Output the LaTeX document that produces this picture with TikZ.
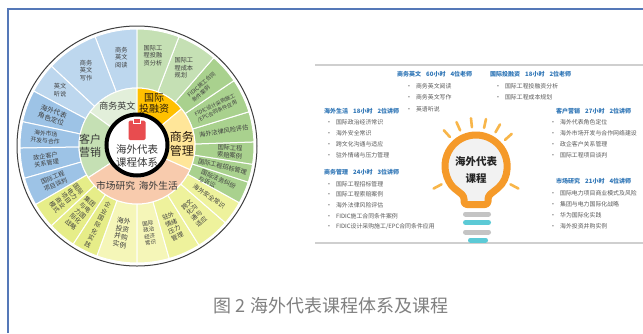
\documentclass[tikz,border=0pt]{standalone}
\usepackage{fontspec}
\setmainfont{Noto Sans CJK SC}
\definecolor{frameblue}{HTML}{5578B8}
\definecolor{panelgrey}{HTML}{CFCFCF}
\definecolor{headblue}{HTML}{2E75B6}
\definecolor{itemgrey}{HTML}{595959}
\definecolor{capgrey}{HTML}{808080}
\definecolor{lblue}{HTML}{BDD7EE}
\definecolor{mblue}{HTML}{9DC3E6}
\definecolor{lgreen}{HTML}{C5E0B4}
\definecolor{mgreen}{HTML}{A9D18E}
\definecolor{yel}{HTML}{EEF29C}
\definecolor{yelpale}{HTML}{F5F6B8}
\definecolor{yellime}{HTML}{E6ED88}
\definecolor{cEng}{HTML}{E2EFDA}
\definecolor{cMkt}{HTML}{C5E0B4}
\definecolor{cInv}{HTML}{FFC000}
\definecolor{cMgt}{HTML}{FFE699}
\definecolor{cLife}{HTML}{F8CBAD}
\definecolor{clipred}{HTML}{E84C4F}
\definecolor{bulborange}{HTML}{F59A2A}
\definecolor{raycol}{HTML}{F8B64A}
\definecolor{bulbfill}{HTML}{F2F2F2}
\definecolor{bargrey}{HTML}{C4C4C4}
\definecolor{barcyan}{HTML}{5CCAD6}
% annular sector: start angle, end angle, inner radius, outer radius, colour
\newcommand\wseg[5]{\path[fill=#5, draw=white, line width=1pt] (#1:#3) arc[start angle=#1, end angle=#2, radius=#3] -- (#2:#4) arc[start angle=#2, end angle=#1, radius=#4] -- cycle;}
\begin{document}
\begin{tikzpicture}[x=1pt, y=-1pt,
  otxt/.style={font=\fontsize{6.2}{7.4}\selectfont, text=black!75, inner sep=0pt, align=center},
  mtxt/.style={text=black!78, inner sep=0pt, align=center},
  head/.style={font=\fontsize{6}{7}\selectfont\bfseries, text=headblue, anchor=west, inner sep=0pt},
  item/.style={font=\fontsize{5.9}{7}\selectfont, text=itemgrey, anchor=west, inner sep=0pt},
  bar/.style={line width=5pt, line cap=round},
  ray/.style={draw=raycol, line width=2.6pt, line cap=round}]
\useasboundingbox (0,0) rectangle (643,333);
\fill[white] (0,0) rectangle (643,333);

% page frame
\draw[frameblue, line width=2pt] (8,333) -- (8,9) -- (643,9);

% ---------- course wheel ----------
\begin{scope}[shift={(137,146)}, y=1pt]
  \draw[black!75, line width=1pt] (0,0) circle[radius=120];
  % outer ring: courses
  \wseg{90}{111}{58}{117}{lblue}
  \wseg{111}{137}{58}{117}{lblue}
  \wseg{137}{152}{58}{117}{lblue}
  \wseg{152}{168}{58}{117}{mblue}
  \wseg{168}{181}{58}{117}{mblue}
  \wseg{181}{196}{58}{117}{mblue}
  \wseg{196}{210}{58}{117}{mblue}
  \wseg{210}{223}{58}{117}{yellime}
  \wseg{223}{237}{58}{117}{yellime}
  \wseg{237}{250}{58}{117}{yellime}
  \wseg{250}{270}{58}{117}{yelpale}
  \wseg{270}{286}{58}{117}{yelpale}
  \wseg{286}{302}{58}{117}{yel}
  \wseg{302}{319}{58}{117}{yel}
  \wseg{319}{331}{58}{117}{yel}
  \wseg{331}{342}{58}{117}{mgreen}
  \wseg{342}{351}{58}{117}{mgreen}
  \wseg{351}{362}{58}{117}{mgreen}
  \wseg{2}{17}{58}{117}{mgreen}
  \wseg{17}{34}{58}{117}{mgreen}
  \wseg{34}{49}{58}{117}{mgreen}
  \wseg{49}{69}{58}{117}{lgreen}
  \wseg{69}{90}{58}{117}{lgreen}
  % middle ring: course groups
  \wseg{90}{144}{31}{58}{cEng}
  \wseg{144}{213}{31}{58}{cMkt}
  \wseg{213}{336}{31}{58}{cLife}
  \wseg{-24}{40}{31}{58}{cMgt}
  \wseg{40}{90}{31}{58}{cInv}
  % hub
  \draw[black, line width=4pt, fill=white] (0,1) circle[radius=30.5];
  \fill[clipred, rounded corners=1.5pt] (-8.5,6) rectangle (8.5,25.5);
  \path[fill=clipred, draw=white, line width=0.8pt] (-3.5,23) rectangle (3.5,27.5);
  \node[mtxt, font=\fontsize{10.5}{12.5}\selectfont] (hub) at (0,-10) {海外代表\\课程体系};

  % group labels
  \node[mtxt, font=\fontsize{9}{10}\selectfont] (gEng) at (116:45) {商务英文};
  \node[mtxt, font=\fontsize{10}{11.5}\selectfont, text=black!80!brown] (gInv) at (68:46) {国际\\投融资};
  \node[mtxt, font=\fontsize{12}{14}\selectfont, text=black!80!brown] (gMgt) at (3:45) {商务\\管理};
  \node[mtxt, font=\fontsize{11}{13}\selectfont] (gMkt) at (180:47) {客户\\营销};
  \node[mtxt, font=\fontsize{9.7}{11}\selectfont] (gLife) at (270:40) {市场研究\hspace{4pt}海外生活};

  % course labels
  \node[otxt, align=left] (c01) at (80:92) {国际工\\程投融\\资分析};
  \node[otxt, align=left] (c02) at (59:91) {国际工\\程成本\\规划};
  \node[otxt] (c03) at (100:90) {商务\\英文\\阅读};
  \node[otxt] (c04) at (124:91) {商务\\英文\\写作};
  \node[otxt] (c05) at (144:95) {英文\\听说};
  \node[otxt, font=\fontsize{6.8}{8}\selectfont, rotate=-20] (c06) at (160:90) {海外代表\\角色定位};
  \node[otxt, font=\fontsize{5.8}{7}\selectfont, rotate=-5.5] (c07) at (174.5:92) {海外市场\\开发与合作};
  \node[otxt, rotate=8.5] (c08) at (188.5:92) {政企客户\\关系管理};
  \node[otxt, rotate=23] (c09) at (203:90) {国际工程\\项目谈判};
  \node[otxt, rotate=-53.5] (c10) at (216.5:88) {国际\\电力\\项目\\商业\\模式};
  \node[otxt, rotate=-40] (c11) at (230:88) {集团\\与电\\力国\\际化\\战略};
  \node[otxt, rotate=-26.5] (c12) at (243.5:88) {企\\业\\国\\际\\化\\实\\践};
  \node[otxt, font=\fontsize{6.8}{8}\selectfont, rotate=-10] (c13) at (260:88) {海外\\投资\\并购\\实例};
  \node[otxt, font=\fontsize{5.5}{6.6}\selectfont, rotate=8] (c14) at (278:88) {国际\\政治\\经济\\常识};
  \node[otxt, rotate=24] (c15) at (294:88) {驻外\\情绪\\压力\\管理};
  \node[otxt, rotate=40.5] (c16) at (310.5:88) {跨文\\化沟\\通与\\适应};
  \node[otxt, rotate=-35] (c17) at (325:88) {海外安全常识};
  \node[otxt, align=left, rotate=-24.5] (c18) at (-24.5:88) {国际法务纠纷\\与诉讼};
  \node[otxt, rotate=-13.5] (c19) at (-13.5:88) {国际工程招标管理};
  \node[otxt, align=left, rotate=-3.5] (c20) at (-3.5:93) {国际工程\\索赔案例};
  \node[otxt, rotate=9.5] (c21) at (9.5:88) {海外法律风险评估};
  \node[otxt, font=\fontsize{5.2}{6.6}\selectfont, align=left, rotate=25.5] (c22) at (25.5:88) {FIDIC设计采购施工\\/EPC合同条件应用};
  \node[otxt, font=\fontsize{5.4}{6.8}\selectfont, align=left, rotate=41.5] (c23) at (41.5:89) {FIDIC施工合同\\条件案例};
\end{scope}

% ---------- course summary panel ----------
\fill[white] (315,65) rectangle (643,243);
\draw[panelgrey, line width=1.2pt] (315,65) -- (643,65);
\draw[panelgrey, line width=1.2pt] (315,243) -- (643,243);

% light bulb
\begin{scope}[shift={(476,166)}, y=1pt]
  \foreach \a in {42,60,78,96,114,132,208,332}
    \draw[ray] (\a:39) -- (\a:48);
  \path[fill=bulbfill, draw=bulborange, line width=7pt, line join=round, rounded corners=3pt]
    (-50:31) arc[start angle=-50, end angle=230, radius=31]
    -- (-12,-30) -- (-12,-38.5) -- (12,-38.5) -- (12,-30) -- cycle;
\end{scope}
\node[font=\fontsize{10.5}{16.5}\selectfont\bfseries, text=black!85, align=center, inner sep=0pt] (bulbtext) at (476,170) {海外代表\\课程};
\draw[bar, bargrey] (465.5,214) -- (488.5,214);
\draw[bar, barcyan] (465.5,222.5) -- (488.5,222.5);
\draw[bar, bargrey] (465.5,232) -- (488.5,232);
\draw[bar, barcyan] (470.5,240) -- (485.5,240);

% group: business English
\node[head] (hEng) at (397,74) {商务英文\hspace{5pt}60小时\hspace{5pt}4位老师};
\node[item] (iEng1) at (406,86) {•\hspace{4pt}商务英文阅读};
\node[item] (iEng2) at (406,97.5) {•\hspace{4pt}商务英文写作};
\node[item] (iEng3) at (406,109) {•\hspace{4pt}英语听说};

% group: investment and financing
\node[head] (hInv) at (490,74) {国际投融资\hspace{5pt}18小时\hspace{5pt}2位老师};
\node[item] (iInv1) at (495,86) {•\hspace{4pt}国际工程投融资分析};
\node[item] (iInv2) at (495,97) {•\hspace{4pt}国际工程成本规划};

% group: living abroad
\node[head] (hLife) at (324,111) {海外生活\hspace{5pt}18小时\hspace{5pt}2位讲师};
\node[item] (iLife1) at (326,122.7) {•\hspace{4pt}国际政治经济常识};
\node[item] (iLife2) at (326,133.5) {•\hspace{4pt}海外安全常识};
\node[item] (iLife3) at (326,144.5) {•\hspace{4pt}跨文化沟通与适应};
\node[item] (iLife4) at (326,155.7) {•\hspace{4pt}驻外情绪与压力管理};

% group: client marketing
\node[head] (hMkt) at (556,111) {客户营销\hspace{5pt}27小时\hspace{5pt}2位讲师};
\node[item] (iMkt1) at (550,122.7) {•\hspace{4pt}海外代表角色定位};
\node[item] (iMkt2) at (550,133.5) {•\hspace{4pt}海外市场开发与合作网络建设};
\node[item] (iMkt3) at (550,144.5) {•\hspace{4pt}政企客户关系管理};
\node[item] (iMkt4) at (550,155.7) {•\hspace{4pt}国际工程项目谈判};

% group: business management
\node[head] (hMgt) at (324,172) {商务管理\hspace{5pt}24小时\hspace{5pt}3位讲师};
\node[item] (iMgt1) at (326,184) {•\hspace{4pt}国际工程招标管理};
\node[item] (iMgt2) at (326,194.5) {•\hspace{4pt}国际工程索赔案例};
\node[item] (iMgt3) at (326,205) {•\hspace{4pt}海外法律风险评估};
\node[item] (iMgt4) at (326,216) {•\hspace{4pt}FIDIC施工合同条件案例};
\node[item] (iMgt5) at (326,226.7) {•\hspace{4pt}FIDIC设计采购施工/EPC合同条件应用};

% group: market research
\node[head] (hRes) at (556,181) {市场研究\hspace{5pt}21小时\hspace{5pt}4位讲师};
\node[item] (iRes1) at (550,193) {•\hspace{4pt}国际电力项目商业模式及风险};
\node[item] (iRes2) at (550,204) {•\hspace{4pt}集团与电力国际化战略};
\node[item] (iRes3) at (550,215) {•\hspace{4pt}华为国际化实践};
\node[item] (iRes4) at (550,226.7) {•\hspace{4pt}海外投资并购实例};

% caption
\node[font=\fontsize{18}{20}\selectfont, text=capgrey, inner sep=0pt] (caption) at (331,306) {图 2 海外代表课程体系及课程};
\end{tikzpicture}
\end{document}
